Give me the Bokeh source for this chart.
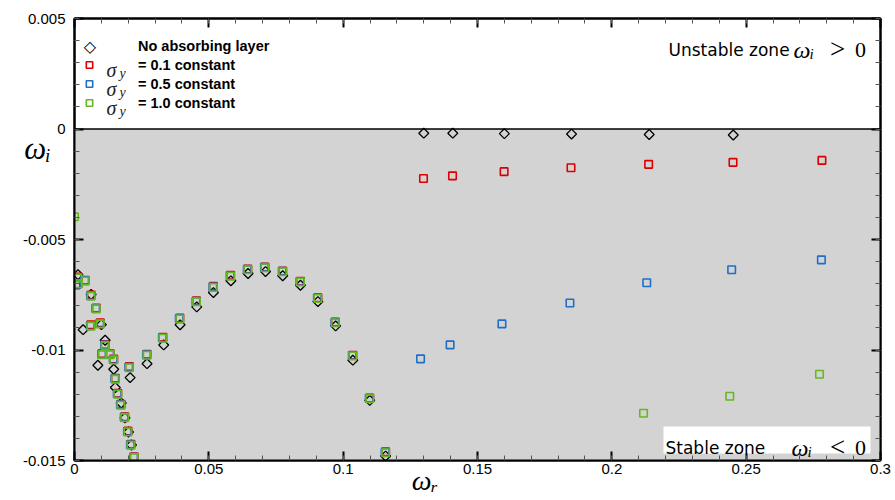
import numpy as np
from bokeh.plotting import figure
from bokeh.models import (Range1d, LinearAxis, FixedTicker, CustomJSTickFormatter, Label,
                          BoxAnnotation, Span, Legend, LegendItem)
from bokeh.embed import file_html
from bokeh.resources import INLINE

# ---------------- data ----------------
# No absorbing layer (black diamonds)
nal_wr = [0.0013, 0.0062, 0.0032, 0.0100, 0.0114, 0.0087, 0.0146, 0.0207, 0.0152, 0.0174,
          0.0188, 0.0201, 0.0212,
          0.0270, 0.0332, 0.0393, 0.0455, 0.0517, 0.0582, 0.0646, 0.0711, 0.0775, 0.0841,
          0.0906, 0.0972, 0.1036, 0.1099, 0.1158,
          0.1300, 0.1408, 0.1600, 0.1850, 0.2139, 0.2452]
nal_wi = [-0.00659, -0.00749, -0.00908, -0.00885, -0.00956, -0.01069, -0.01087, -0.01125, -0.01170, -0.01240,
          -0.01307, -0.01371, -0.01430,
          -0.01062, -0.00977, -0.00886, -0.00805, -0.00740, -0.00687, -0.00654, -0.00645, -0.00664, -0.00707,
          -0.00781, -0.00891, -0.01046, -0.01228, -0.01480,
          -0.00019, -0.00019, -0.00021, -0.00023, -0.00025, -0.00027]

# sigma_y = 0.1 constant (red squares)
s01_wr = [0.0013, 0.0006, 0.0040, 0.0062, 0.0081, 0.0061, 0.0096, 0.0114, 0.0103, 0.0133,
          0.0146, 0.0204, 0.0152, 0.0161, 0.0173, 0.0187, 0.0199, 0.0210, 0.0222,
          0.0270, 0.0329, 0.0392, 0.0454, 0.0517, 0.0581, 0.0645, 0.0709, 0.0775, 0.0841,
          0.0906, 0.0971, 0.1036, 0.1099, 0.1158,
          0.1299, 0.1407, 0.1599, 0.1848, 0.2137, 0.2451, 0.2782]
s01_wi = [-0.00670, -0.00706, -0.00685, -0.00751, -0.00810, -0.00886, -0.00877, -0.00975, -0.01016, -0.01017,
          -0.01041, -0.01075, -0.01128, -0.01196, -0.01246, -0.01302, -0.01367, -0.01427, -0.01483,
          -0.01019, -0.00942, -0.00855, -0.00777, -0.00712, -0.00662, -0.00634, -0.00625, -0.00643, -0.00689,
          -0.00764, -0.00874, -0.01024, -0.01217, -0.01461,
          -0.00224, -0.00212, -0.00193, -0.00175, -0.00160, -0.00151, -0.00142]

# sigma_y = 0.5 constant (blue squares)
s05_wr = [0.0011, 0.0010, 0.0038, 0.0060, 0.0079, 0.0059, 0.0094, 0.0112, 0.0101, 0.0131,
          0.0144, 0.0202, 0.0150, 0.0159, 0.0171, 0.0185, 0.0197, 0.0208, 0.0220,
          0.0268, 0.0327, 0.0390, 0.0452, 0.0515, 0.0579, 0.0643, 0.0707, 0.0773, 0.0839,
          0.0904, 0.0969, 0.1034, 0.1097, 0.1156,
          0.1288, 0.1398, 0.1591, 0.1844, 0.2130, 0.2446, 0.2780]
s05_wi = [-0.00672, -0.00702, -0.00686, -0.00754, -0.00812, -0.00890, -0.00880, -0.00978, -0.01019, -0.01019,
          -0.01043, -0.01078, -0.01130, -0.01198, -0.01248, -0.01304, -0.01369, -0.01429, -0.01485,
          -0.01022, -0.00945, -0.00858, -0.00780, -0.00715, -0.00664, -0.00635, -0.00626, -0.00644, -0.00690,
          -0.00765, -0.00875, -0.01025, -0.01218, -0.01463,
          -0.01040, -0.00977, -0.00882, -0.00787, -0.00696, -0.00637, -0.00592]

# sigma_y = 1.0 constant (green squares)
s10_wr = [0.0000, 0.0013, 0.0015, 0.0040, 0.0062, 0.0081, 0.0061, 0.0096, 0.0114, 0.0103,
          0.0133, 0.0146, 0.0204, 0.0152, 0.0161, 0.0173, 0.0187, 0.0199, 0.0210, 0.0222,
          0.0270, 0.0329, 0.0392, 0.0454, 0.0517, 0.0581, 0.0645, 0.0709, 0.0775, 0.0841,
          0.0906, 0.0971, 0.1036, 0.1099, 0.1158,
          0.2118, 0.2439, 0.2773]
s10_wi = [-0.00397, -0.00674, -0.00700, -0.00688, -0.00756, -0.00814, -0.00892, -0.00882, -0.00980, -0.01021,
          -0.01021, -0.01045, -0.01080, -0.01132, -0.01200, -0.01250, -0.01306, -0.01371, -0.01431, -0.01487,
          -0.01024, -0.00947, -0.00860, -0.00782, -0.00717, -0.00666, -0.00637, -0.00628, -0.00646, -0.00692,
          -0.00767, -0.00877, -0.01027, -0.01220, -0.01465,
          -0.01286, -0.01209, -0.01110]

series_labels = ["No absorbing layer", "= 0.1 constant", "= 0.5 constant", "= 1.0 constant"]

x_ticks = [0, 0.05, 0.1, 0.15, 0.2, 0.25, 0.3]
x_tick_labels = ["0", "0.05", "0.1", "0.15", "0.2", "0.25", "0.3"]
y_ticks = [-0.015, -0.01, -0.005, 0, 0.005]
y_tick_labels = ["-0.015", "-0.01", "-0.005", "0", "0.005"]
x_minor = [round(0.01 * i, 3) for i in range(31)]
y_minor = [round(-0.015 + 0.001 * i, 4) for i in range(21)]

x_title = "ωᵣ"
y_title = "ωᵢ"

# ---------------- figure ----------------
p = figure(width=895, height=500, x_range=Range1d(0, 0.3), y_range=Range1d(-0.015, 0.005),
           output_backend="svg", toolbar_location=None,
           min_border_left=74, min_border_right=15, min_border_top=18, min_border_bottom=40)
p.grid.visible = False
p.outline_line_color = "black"
p.outline_line_width = 2
p.background_fill_color = "white"
p.border_fill_color = "white"


def make_fmt(vals, labs):
    return CustomJSTickFormatter(args=dict(vals=vals, labs=labs), code="""
        for (let i = 0; i < vals.length; i++) {
            if (Math.abs(vals[i] - tick) < 1e-9) { return labs[i]; }
        }
        return "";
    """)


blank_fmt = CustomJSTickFormatter(code="return '';")


def style_axis(ax, ticks, minor, fmt, standoff):
    ax.ticker = FixedTicker(ticks=ticks, minor_ticks=minor)
    ax.formatter = fmt
    ax.axis_line_color = "black"
    ax.axis_line_width = 2
    ax.major_tick_in = 9
    ax.major_tick_out = 0
    ax.minor_tick_in = 5
    ax.minor_tick_out = 0
    ax.major_tick_line_color = "black"
    ax.major_tick_line_width = 2
    ax.minor_tick_line_color = "#555555"
    ax.minor_tick_line_width = 1
    ax.major_label_text_font = "Liberation Sans"
    ax.major_label_text_font_size = "15px"
    ax.major_label_text_color = "black"
    ax.major_label_standoff = standoff


style_axis(p.xaxis[0], x_ticks, x_minor, make_fmt(x_ticks, x_tick_labels), 3)
style_axis(p.yaxis[0], y_ticks, y_minor, make_fmt(y_ticks, y_tick_labels), 9)

# axis titles through the axes themselves (annotations outside the frame get clipped)
xa = p.xaxis[0]
xa.axis_label = x_title + "\u00a0" * 15
xa.axis_label_text_font = "Liberation Serif"
xa.axis_label_text_font_style = "italic"
xa.axis_label_text_font_size = "28px"
xa.axis_label_text_color = "black"
xa.axis_label_standoff = -12

ya = p.yaxis[0]
ya.axis_label = y_title + "\n\n\n\n"
ya.axis_label_orientation = "horizontal"
ya.axis_label_text_font = "Liberation Serif"
ya.axis_label_text_font_style = "italic"
ya.axis_label_text_font_size = "31px"
ya.axis_label_text_line_height = 1.3
ya.axis_label_text_color = "black"
ya.axis_label_standoff = -31

top_ax = LinearAxis()
style_axis(top_ax, x_ticks, x_minor, blank_fmt, 0)
p.add_layout(top_ax, "above")
right_ax = LinearAxis()
style_axis(right_ax, y_ticks, y_minor, blank_fmt, 0)
p.add_layout(right_ax, "right")

# stable zone background and zero line
p.add_layout(BoxAnnotation(top=0, fill_color="#d3d3d3", fill_alpha=1.0, line_color=None, level="underlay"))
p.add_layout(Span(location=0, dimension="width", line_color="black", line_width=1.5, level="underlay"))

# ---------------- glyphs ----------------
r_nal = p.scatter(nal_wr, nal_wi, marker="square", angle=np.pi / 4, size=7,
                  fill_color=None, line_color="black", line_width=1.3)
r_s01 = p.scatter(s01_wr, s01_wi, marker="square", size=7.5,
                  fill_color=None, line_color="#dd0000", line_width=1.6)
r_s05 = p.scatter(s05_wr, s05_wi, marker="square", size=7.5,
                  fill_color=None, line_color="#1f6fc8", line_width=1.6)
r_s10 = p.scatter(s10_wr, s10_wi, marker="square", size=7.5,
                  fill_color=None, line_color="#66b820", line_width=1.6)
# invisible stand-in so the legend row keeps its label; the diamond is drawn as a symbol below
r_nal_leg = p.scatter([], [], marker="square", size=7, fill_alpha=0, line_alpha=0)

legend = Legend(items=[LegendItem(label=series_labels[0], renderers=[r_nal_leg]),
                       LegendItem(label=series_labels[1], renderers=[r_s01]),
                       LegendItem(label=series_labels[2], renderers=[r_s05]),
                       LegendItem(label=series_labels[3], renderers=[r_s10])],
                location=(7, 348), orientation="vertical",
                border_line_color=None, background_fill_alpha=0.0,
                padding=0, margin=0, spacing=0,
                glyph_width=16, glyph_height=19, label_height=19, label_standoff=41,
                label_text_font="Liberation Sans", label_text_font_style="bold",
                label_text_font_size="14.5px", label_text_color="black")
p.add_layout(legend)

p.add_layout(Label(x=15.5, y=460 - 46, x_units="screen", y_units="screen", text="◇",
                   text_font="DejaVu Sans", text_font_size="16px", text_align="center",
                   text_baseline="middle", text_color="black"))

# sigma_y symbols in the legend (frame screen units)
row_centers_page = [65, 84, 103]
for yc in row_centers_page:
    p.add_layout(Label(x=32, y=460 - (yc + 4.5), x_units="screen", y_units="screen", text="σ",
                       text_font="Liberation Serif", text_font_style="italic", text_font_size="20px",
                       text_baseline="alphabetic", text_color="#222222"))
    p.add_layout(Label(x=45, y=460 - (yc + 7.5), x_units="screen", y_units="screen", text="y",
                       text_font="Liberation Serif", text_font_style="italic", text_font_size="14px",
                       text_baseline="alphabetic", text_color="#222222"))


def lab(x, y, text, font, size, style="normal", align="left", color="black"):
    p.add_layout(Label(x=x, y=y, x_units="screen", y_units="screen", text=text,
                       text_font=font, text_font_style=style, text_font_size=size,
                       text_align=align, text_baseline="alphabetic", text_color=color))


# unstable zone text
lab(594, 411, "Unstable zone", "DejaVu Sans", "17px")
lab(719, 411, "ω", "Liberation Serif", "24px", "italic")
lab(735, 407, "i", "Liberation Serif", "15px", "italic")
lab(763, 412, ">", "Liberation Serif", "27px", align="center")
lab(786, 411, "0", "Liberation Serif", "22px", align="center")

# stable zone text with white box
p.add_layout(BoxAnnotation(left=589, right=796, bottom=7, top=34,
                           left_units="screen", right_units="screen",
                           bottom_units="screen", top_units="screen",
                           fill_color="white", fill_alpha=1.0, line_color=None))
lab(591, 13, "Stable zone", "DejaVu Sans", "17px")
lab(717, 13, "ω", "Liberation Serif", "24px", "italic")
lab(733, 9, "i", "Liberation Serif", "15px", "italic")
lab(763, 14, "<", "Liberation Serif", "27px", align="center")
lab(786, 13, "0", "Liberation Serif", "22px", align="center")

open("out.html", "w").write(file_html(p, INLINE))
